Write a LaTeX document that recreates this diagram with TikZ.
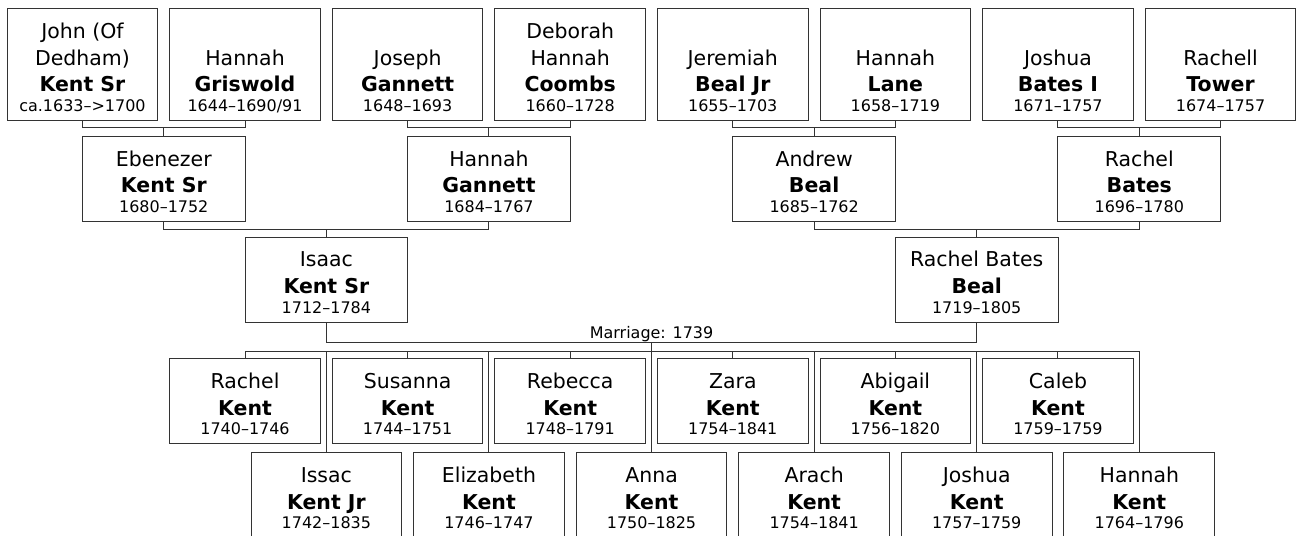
\documentclass[tikz,border=0pt]{standalone}
\usepackage{fontspec}
\setmainfont{DejaVu Sans}
\newcommand{\datefont}{\fontsize{16}{19}\selectfont}
\newcommand{\tstrut}{\rule{0pt}{30pt}}
\newcommand{\bstrut}{\rule[-9pt]{0pt}{9pt}}

\begin{document}
\begin{tikzpicture}[x=1pt, y=-1pt,
		person/.style={draw=black!80, line width=1pt, anchor=north, align=center,
			inner xsep=0pt, inner ysep=0pt, minimum width=151pt,
			font=\fontsize{20.5}{26.7}\selectfont},
		wide/.style={person, minimum width=163pt},
		link/.style={draw=black!80, line width=1pt}]
		\useasboundingbox (0,0) rectangle (1299.5,537);

		% great-grandparents
		\node[person] (john)     at (82.6,8)   {\tstrut John (Of\\Dedham)\\\textbf{Kent Sr}\\[-7.2pt]{\datefont ca.1633–>1700\bstrut}};
		\node[person] (griswold) at (245.5,8)  {\tstrut\\Hannah\\\textbf{Griswold}\\[-7.2pt]{\datefont 1644–1690/91\bstrut}};
		\node[person] (joseph)   at (408.4,8)  {\tstrut\\Joseph\\\textbf{Gannett}\\[-7.2pt]{\datefont 1648–1693\bstrut}};
		\node[person] (coombs)   at (571.3,8)  {\tstrut Deborah\\Hannah\\\textbf{Coombs}\\[-7.2pt]{\datefont 1660–1728\bstrut}};
		\node[person] (jeremiah) at (734.2,8)  {\tstrut\\Jeremiah\\\textbf{Beal Jr}\\[-7.2pt]{\datefont 1655–1703\bstrut}};
		\node[person] (lane)     at (897.1,8)  {\tstrut\\Hannah\\\textbf{Lane}\\[-7.2pt]{\datefont 1658–1719\bstrut}};
		\node[person] (joshuab)  at (1060,8)   {\tstrut\\Joshua\\\textbf{Bates I}\\[-7.2pt]{\datefont 1671–1757\bstrut}};
		\node[person] (tower)    at (1222.9,8) {\tstrut\\Rachell\\\textbf{Tower}\\[-7.2pt]{\datefont 1674–1757\bstrut}};

		% grandparents
		\node[wide] (ebenezer) at (164.1,136)  {\tstrut Ebenezer\\\textbf{Kent Sr}\\[-7.2pt]{\datefont 1680–1752\bstrut}};
		\node[wide] (hgannett) at (489.9,136)  {\tstrut Hannah\\\textbf{Gannett}\\[-7.2pt]{\datefont 1684–1767\bstrut}};
		\node[wide] (andrew)   at (815.7,136)  {\tstrut Andrew\\\textbf{Beal}\\[-7.2pt]{\datefont 1685–1762\bstrut}};
		\node[wide] (rbates)   at (1141.5,136) {\tstrut Rachel\\\textbf{Bates}\\[-7.2pt]{\datefont 1696–1780\bstrut}};

		% parents
		\node[wide] (isaac) at (327,237)   {\tstrut Isaac\\\textbf{Kent Sr}\\[-7.2pt]{\datefont 1712–1784\bstrut}};
		\node[wide] (rbeal) at (978.6,237) {\tstrut Rachel Bates\\\textbf{Beal}\\[-7.2pt]{\datefont 1719–1805\bstrut}};

		% children
		\node[person] (rachelk)  at (245.5,359) {\tstrut Rachel\\\textbf{Kent}\\[-7.2pt]{\datefont 1740–1746\bstrut}};
		\node[person] (susanna)  at (408.4,359) {\tstrut Susanna\\\textbf{Kent}\\[-7.2pt]{\datefont 1744–1751\bstrut}};
		\node[person] (rebecca)  at (571.3,359) {\tstrut Rebecca\\\textbf{Kent}\\[-7.2pt]{\datefont 1748–1791\bstrut}};
		\node[person] (zara)     at (734.2,359) {\tstrut Zara\\\textbf{Kent}\\[-7.2pt]{\datefont 1754–1841\bstrut}};
		\node[person] (abigail)  at (897.1,359) {\tstrut Abigail\\\textbf{Kent}\\[-7.2pt]{\datefont 1756–1820\bstrut}};
		\node[person] (caleb)    at (1060,359)  {\tstrut Caleb\\\textbf{Kent}\\[-7.2pt]{\datefont 1759–1759\bstrut}};
		\node[person] (issac)     at (327,453)    {\tstrut Issac\\\textbf{Kent Jr}\\[-7.2pt]{\datefont 1742–1835\bstrut}};
		\node[person] (elizabeth) at (489.9,453)  {\tstrut Elizabeth\\\textbf{Kent}\\[-7.2pt]{\datefont 1746–1747\bstrut}};
		\node[person] (anna)      at (652.8,453)  {\tstrut Anna\\\textbf{Kent}\\[-7.2pt]{\datefont 1750–1825\bstrut}};
		\node[person] (arach)     at (815.7,453)  {\tstrut Arach\\\textbf{Kent}\\[-7.2pt]{\datefont 1754–1841\bstrut}};
		\node[person] (joshuak)   at (978.6,453)  {\tstrut Joshua\\\textbf{Kent}\\[-7.2pt]{\datefont 1757–1759\bstrut}};
		\node[person] (hannahk)   at (1141.5,453) {\tstrut Hannah\\\textbf{Kent}\\[-7.2pt]{\datefont 1764–1796\bstrut}};

		\coordinate (bar1) at (0,128);
		\coordinate (bar2) at (0,229.5);
		\coordinate (wed)  at (0,343);
		\coordinate (kids) at (0,352);

		\draw[link] (john.south) |- (bar1 -| ebenezer.north) -| (griswold.south);
		\draw[link] (joseph.south) |- (bar1 -| hgannett.north) -| (coombs.south);
		\draw[link] (jeremiah.south) |- (bar1 -| andrew.north) -| (lane.south);
		\draw[link] (joshuab.south) |- (bar1 -| rbates.north) -| (tower.south);
		\draw[link] (ebenezer.north) -- (ebenezer.north |- bar1);
		\draw[link] (hgannett.north) -- (hgannett.north |- bar1);
		\draw[link] (andrew.north) -- (andrew.north |- bar1);
		\draw[link] (rbates.north) -- (rbates.north |- bar1);

		\draw[link] (ebenezer.south) |- (bar2 -| isaac.north) -| (hgannett.south);
		\draw[link] (andrew.south) |- (bar2 -| rbeal.north) -| (rbates.south);
		\draw[link] (isaac.north) -- (isaac.north |- bar2);
		\draw[link] (rbeal.north) -- (rbeal.north |- bar2);

		% marriage and children
		\draw[link] (isaac.south) |- (wed -| anna.north) -| (rbeal.south);
		\node[font=\datefont, anchor=base, inner sep=0pt] (weddate) at (652.8,339) {Marriage: 1739};
		\draw[link] (anna.north) -- (anna.north |- wed);
		\draw[link] (rachelk.north |- kids) -- (hannahk.north |- kids);

		\draw[link] (rachelk.north) -- (rachelk.north |- kids);
		\draw[link] (susanna.north) -- (susanna.north |- kids);
		\draw[link] (rebecca.north) -- (rebecca.north |- kids);
		\draw[link] (zara.north) -- (zara.north |- kids);
		\draw[link] (abigail.north) -- (abigail.north |- kids);
		\draw[link] (caleb.north) -- (caleb.north |- kids);
		\draw[link] (issac.north) -- (issac.north |- kids);
		\draw[link] (elizabeth.north) -- (elizabeth.north |- kids);
		\draw[link] (arach.north) -- (arach.north |- kids);
		\draw[link] (joshuak.north) -- (joshuak.north |- kids);
		\draw[link] (hannahk.north) -- (hannahk.north |- kids);

	\end{tikzpicture}
\end{document}
